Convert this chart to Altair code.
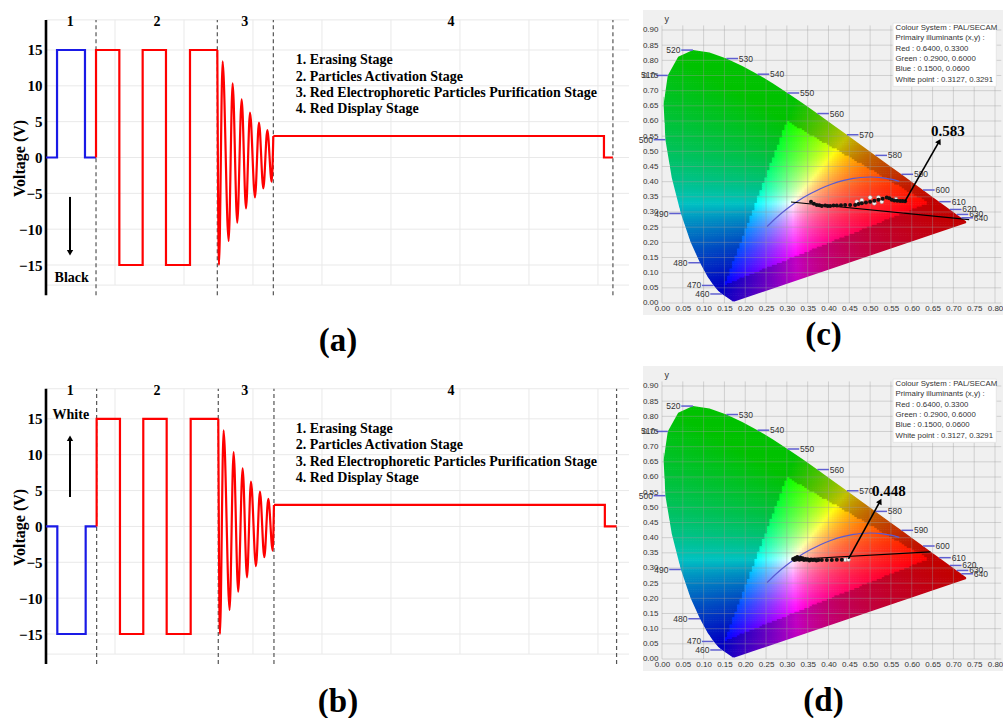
import altair as alt
import numpy as np
import pandas as pd

SERIF = "Liberation Serif"
SANS = "Liberation Sans"
BG = "#f0f0f0"

# ---------------- waveform (a) ----------------
A_BLUE_T = [0, 0.16, 0.16, 0.565, 0.565, 0.725]
A_BLUE_V = [0, 0, 15, 15, 0, 0]
A_SQ_T = [0.725, 0.725, 1.063, 1.063, 1.401, 1.401, 1.739, 1.739, 2.087, 2.087, 2.483]
A_OSC_T = [2.483, 2.507, 2.560, 2.647, 2.705, 2.772, 2.836, 2.899, 2.957, 3.029, 3.087, 3.150, 3.208, 3.271, 3.295]
A_ST4_T = [3.295, 8.087, 8.087, 8.217]
A_DASH_T = [0.725, 2.483, 3.295, 8.217]
# ---------------- waveform (b) ----------------
B_BLUE_T = [0, 0.164, 0.164, 0.575, 0.575, 0.734]
B_BLUE_V = [0, 0, -15, -15, 0, 0]
B_SQ_T = [0.734, 0.734, 1.072, 1.072, 1.410, 1.410, 1.749, 1.749, 2.097, 2.097, 2.497]
B_OSC_T = [2.497, 2.521, 2.574, 2.661, 2.719, 2.786, 2.850, 2.913, 2.971, 3.043, 3.101, 3.164, 3.222, 3.285, 3.304]
B_ST4_T = [3.304, 8.100, 8.100, 8.270]
B_DASH_T = [0.734, 2.497, 3.304, 8.270]

SQ_V = [0, 15, 15, -15, -15, 15, 15, -15, -15, 15, 15]
OSC_V = [15, -15, 13.4, -11.65, 10.35, -9.1, 8.1, -7.1, 6.25, -5.55, 4.86, -4.3, 3.84, -3.37, 3.0]
ST4_V = [3, 3, 0, 0]

STAGE_NUM = ["1", "2", "3", "4"]
STAGE_NUM_T = [0.35, 1.61, 2.88, 5.87]
STAGE_NUM_V = 18.9
STAGE_TEXT = ["1. Erasing Stage", "2. Particles Activation Stage",
              "3. Red Electrophoretic Particles Purification Stage", "4. Red Display Stage"]
STAGE_TEXT_T = 3.62
STAGE_TEXT_V = [13.6, 11.3, 9.0, 6.7]
Y_TICKS = [-15, -10, -5, 0, 5, 10, 15]
H_GRID_V = [-17.8, -15, -10, -5, 0, 5, 10, 15, 19.2]
V_GRID_T = [1, 2, 3, 4, 5, 6, 7, 8]
T_MAX = 8.45
AXIS_SPAN = [-19.2, 19.2]
GRID_SPAN = [-17.8, 19.2]

# ---------------- CIE 1931 spectral locus ----------------
LOCUS_NM = [380, 430, 440, 450, 460, 465, 470, 475, 480, 485, 490, 495, 500, 505, 510, 515, 520, 525,
            530, 535, 540, 545, 550, 555, 560, 565, 570, 575, 580, 585, 590, 595, 600, 605, 610, 620,
            630, 640, 650, 700]
LOCUS_X = [0.1741, 0.1689, 0.1644, 0.1566, 0.1440, 0.1355, 0.1241, 0.1096, 0.0913, 0.0687, 0.0454,
           0.0235, 0.0082, 0.0039, 0.0139, 0.0389, 0.0743, 0.1142, 0.1547, 0.1929, 0.2296, 0.2658,
           0.3016, 0.3373, 0.3731, 0.4087, 0.4441, 0.4788, 0.5125, 0.5448, 0.5752, 0.6029, 0.6270,
           0.6482, 0.6658, 0.6915, 0.7079, 0.7190, 0.7260, 0.7347]
LOCUS_Y = [0.0050, 0.0069, 0.0109, 0.0177, 0.0297, 0.0399, 0.0578, 0.0868, 0.1327, 0.2007, 0.2950,
           0.4127, 0.5384, 0.6548, 0.7502, 0.8120, 0.8338, 0.8262, 0.8059, 0.7816, 0.7543, 0.7243,
           0.6923, 0.6589, 0.6245, 0.5896, 0.5547, 0.5202, 0.4866, 0.4544, 0.4242, 0.3965, 0.3725,
           0.3514, 0.3340, 0.3083, 0.2920, 0.2809, 0.2740, 0.2653]
WL_LABELS = [460, 470, 480, 490, 500, 510, 520, 530, 540, 550, 560, 570, 580, 590, 600, 610, 620, 630, 640]

PLANCK_X = [0.2524, 0.2637, 0.2807, 0.2952, 0.3135, 0.3324, 0.3451, 0.3608, 0.3805, 0.4052, 0.4369,
            0.4599, 0.4770, 0.5018, 0.5267, 0.5496, 0.5700]
PLANCK_Y = [0.2522, 0.2671, 0.2884, 0.3048, 0.3237, 0.3410, 0.3516, 0.3635, 0.3768, 0.3907, 0.4041,
            0.4106, 0.4137, 0.4153, 0.4133, 0.4081, 0.4010]

CIE_X_TICKS = [0.0, 0.05, 0.1, 0.15, 0.2, 0.25, 0.3, 0.35, 0.4, 0.45, 0.5, 0.55, 0.6, 0.65, 0.7, 0.75, 0.8]
CIE_Y_TICKS = [0.0, 0.05, 0.1, 0.15, 0.2, 0.25, 0.3, 0.35, 0.4, 0.45, 0.5, 0.55, 0.6, 0.65, 0.7, 0.75,
               0.8, 0.85, 0.9]

LEGEND_LINES = ["Colour System : PAL/SECAM", "Primairy illuminants (x,y) :", "Red : 0.6400, 0.3300",
                "Green : 0.2900, 0.6000", "Blue : 0.1500, 0.0600", "White point  : 0.3127, 0.3291"]
LEGEND_Y = [0.906, 0.872, 0.838, 0.804, 0.770, 0.736]

# (c) measured chromaticity points
C_BLACK_X = [0.358, 0.365, 0.372, 0.378, 0.384, 0.392, 0.398, 0.404, 0.412, 0.420, 0.430, 0.440, 0.452,
             0.464, 0.472, 0.480, 0.490, 0.500, 0.510, 0.520, 0.530, 0.540, 0.546, 0.552, 0.558, 0.565,
             0.572, 0.578, 0.584]
C_BLACK_Y = [0.334, 0.327, 0.323, 0.322, 0.320, 0.321, 0.320, 0.320, 0.321, 0.321, 0.322, 0.323, 0.323,
             0.323, 0.326, 0.329, 0.331, 0.334, 0.337, 0.340, 0.344, 0.348, 0.345, 0.340, 0.338, 0.337,
             0.336, 0.336, 0.335]
C_WHITE_X = [0.468, 0.480, 0.500, 0.510, 0.520, 0.528, 0.562]
C_WHITE_Y = [0.334, 0.339, 0.348, 0.329, 0.348, 0.334, 0.342]
C_LINE = [0.310, 0.333, 0.738, 0.275]
C_ARROW = [0.584, 0.336, 0.666, 0.533]
C_VALUE = ["0.583", 0.687, 0.567]

# (d) measured chromaticity points
D_BLACK_X = [0.315, 0.318, 0.320, 0.323, 0.325, 0.328, 0.330, 0.333, 0.335, 0.338, 0.341, 0.344, 0.347,
             0.350, 0.354, 0.358, 0.362, 0.366, 0.371, 0.376, 0.384, 0.396, 0.408, 0.420, 0.432]
D_BLACK_Y = [0.330, 0.326, 0.333, 0.328, 0.336, 0.331, 0.327, 0.334, 0.329, 0.332, 0.326, 0.330, 0.327,
             0.329, 0.325, 0.328, 0.326, 0.327, 0.325, 0.326, 0.326, 0.326, 0.326, 0.327, 0.327]
D_WHITE_X = [0.440, 0.448]
D_WHITE_Y = [0.327, 0.328]
D_LINE = [0.312, 0.328, 0.645, 0.353]
D_ARROW = [0.448, 0.330, 0.524, 0.520]
D_VALUE = ["0.448", 0.545, 0.554]


# ---------------- helpers ----------------
def in_poly(px, py, vx, vy):
    inside = np.zeros(px.shape, dtype=bool)
    n = len(vx)
    j = n - 1
    for i in range(n):
        xi, yi, xj, yj = vx[i], vy[i], vx[j], vy[j]
        cond = ((yi > py) != (yj > py)) & (px < (xj - xi) * (py - yi) / (yj - yi + 1e-12) + xi)
        inside ^= cond
        j = i
    return inside


def chroma_hex(x, y):
    y = max(y, 0.004)
    X, Y, Z = x / y, 1.0, (1 - x - y) / y
    r = 3.2406 * X - 1.5372 * Y - 0.4986 * Z
    g = -0.9689 * X + 1.8758 * Y + 0.0415 * Z
    b = 0.0557 * X - 0.2040 * Y + 1.0570 * Z
    out = min(r, g, b) < 0
    r, g, b = max(r, 0.0), max(g, 0.0), max(b, 0.0)
    m = max(r, g, b, 1e-9)
    k = 0.76 if out else 1.0
    vals = [int(round(255 * k * (c / m) ** 0.9)) for c in (r, g, b)]
    return "#%02x%02x%02x" % tuple(vals)


STEP = 0.006
vx_poly = np.array(LOCUS_X)
vy_poly = np.array(LOCUS_Y)
gx, gy = np.meshgrid(np.arange(0.0, 0.74, STEP), np.arange(0.0, 0.84, STEP))
gx, gy = gx.ravel(), gy.ravel()
keep = np.zeros(gx.shape, dtype=bool)
for ox, oy in [(0, 0), (STEP, 0), (0, STEP), (STEP, STEP), (STEP / 2, STEP / 2)]:
    keep |= in_poly(gx + ox, gy + oy, vx_poly, vy_poly)
gx, gy = gx[keep], gy[keep]
CELLS = pd.DataFrame({
    "x0": np.round(gx, 4), "x1": np.round(gx + STEP * 1.3, 4),
    "y0": np.round(gy, 4), "y1": np.round(gy + STEP * 1.3, 4),
    "c": [chroma_hex(a + STEP / 2, b + STEP / 2) for a, b in zip(gx, gy)],
})

XD = [-0.0456, 0.8192]
YD = [-0.0396, 0.9659]

i505 = LOCUS_NM.index(505)
MASK_TOP = pd.DataFrame({"x": LOCUS_X[i505:], "y": LOCUS_Y[i505:], "top": YD[1]})
MASK_LEFT = pd.DataFrame({"y": LOCUS_Y[:i505 + 1] + [YD[1]], "x": LOCUS_X[:i505 + 1] + [LOCUS_X[i505]],
                          "left": XD[0]})
MASK_BOTTOM = pd.DataFrame({"x": [XD[0], LOCUS_X[0], LOCUS_X[-1]], "y": [LOCUS_Y[0], LOCUS_Y[0], LOCUS_Y[-1]],
                            "bottom": YD[0]})
MASK_RIGHT = pd.DataFrame({"x0": [LOCUS_X[-1] - 0.004], "x1": [XD[1]], "y0": [YD[0]], "y1": [YD[1]]})


def wave_panel(tag, blue_t, blue_v, sq_t, osc_t, st4_t, dash_t, note, note_t, note_v,
               arr_v0, arr_v1, head, title_pad, y_top, height, title_y):
    xs = alt.Scale(domain=[0, T_MAX], nice=False, zero=False)
    ys = alt.Scale(domain=[-19.88, y_top], nice=False, zero=False)
    xax = alt.Axis(title=tag, labels=False, ticks=False, domain=False, grid=False, titleFont=SERIF,
                   titleFontSize=33, titleFontWeight="bold", titleColor="black", titlePadding=title_pad)
    yax = alt.Axis(values=Y_TICKS, ticks=False, domain=False, grid=False, labelFont=SERIF, labelFontSize=15,
                   labelFontWeight="bold", labelColor="black", labelPadding=4, title="Voltage (V)",
                   titleFont=SERIF, titleFontSize=16, titleFontWeight="bold", titleColor="black",
                   titleX=-27, titleY=title_y, titleBaseline="middle", titleAngle=270)

    def X(f):
        return alt.X(f, type="quantitative", scale=xs, axis=xax)

    def Y(f):
        return alt.Y(f, type="quantitative", scale=ys, axis=yax)

    hgrid = alt.Chart(pd.DataFrame({"v": H_GRID_V, "t0": 0.0, "t1": T_MAX})).mark_rule(
        color="#e9e9e9", strokeWidth=1).encode(y=Y("v"), x=X("t0"), x2="t1")
    vgrid = alt.Chart(pd.DataFrame({"t": V_GRID_T, "v0": GRID_SPAN[0], "v1": GRID_SPAN[1]})).mark_rule(
        color="#e9e9e9", strokeWidth=1).encode(x=X("t"), y=Y("v0"), y2="v1")
    dash = alt.Chart(pd.DataFrame({"t": dash_t, "v0": AXIS_SPAN[0], "v1": AXIS_SPAN[1]})).mark_rule(
        color="#555555", strokeWidth=1.2, strokeDash=[4, 3]).encode(x=X("t"), y=Y("v0"), y2="v1")
    yline = alt.Chart(pd.DataFrame({"t": [0.0], "v0": [AXIS_SPAN[0]], "v1": [AXIS_SPAN[1]]})).mark_rule(
        color="black", strokeWidth=2.6).encode(x=X("t"), y=Y("v0"), y2="v1")

    def line(ts, vs, color, interp="linear"):
        df = pd.DataFrame({"t": ts, "v": vs, "i": list(range(len(ts)))})
        return alt.Chart(df).mark_line(color=color, strokeWidth=2.2, interpolate=interp).encode(
            x=X("t"), y=Y("v"), order="i:Q")

    blue = line(blue_t, blue_v, "#1a1ae6")
    sq = line(sq_t, SQ_V, "#ff0000")
    osc = line(osc_t, OSC_V, "#ff0000", "monotone")
    st4 = line(st4_t, ST4_V, "#ff0000")

    nums = alt.Chart(pd.DataFrame({"t": STAGE_NUM_T, "v": STAGE_NUM_V, "s": STAGE_NUM})).mark_text(
        font=SERIF, fontSize=14, fontWeight="bold", color="black").encode(x=X("t"), y=Y("v"), text="s:N")
    notes = alt.Chart(pd.DataFrame({"t": STAGE_TEXT_T, "v": STAGE_TEXT_V, "s": STAGE_TEXT})).mark_text(
        font=SERIF, fontSize=14, fontWeight="bold", color="black", align="left", baseline="middle").encode(
        x=X("t"), y=Y("v"), text="s:N")
    note_lbl = alt.Chart(pd.DataFrame({"t": [note_t], "v": [note_v], "s": [note]})).mark_text(
        font=SERIF, fontSize=14, fontWeight="bold", color="black").encode(x=X("t"), y=Y("v"), text="s:N")
    arr = alt.Chart(pd.DataFrame({"t": [0.348], "v0": [arr_v0], "v1": [arr_v1]})).mark_rule(
        color="black", strokeWidth=2).encode(x=X("t"), y=Y("v0"), y2="v1")
    head_df = pd.DataFrame({"t": [0.348], "v": [arr_v1]})
    arr_head = alt.Chart(head_df).mark_point(shape=head, filled=True, size=40, color="black",
                                             opacity=1).encode(x=X("t"), y=Y("v"))
    return alt.layer(hgrid, vgrid, dash, yline, blue, sq, osc, st4, nums, notes, note_lbl, arr,
                     arr_head).properties(width=583, height=height)


def cie_panel(tag, bx, by, wx, wy, line_pts, arrow_pts, head_angle, value, title_pad):
    xs = alt.Scale(domain=XD, nice=False, zero=False)
    ys = alt.Scale(domain=YD, nice=False, zero=False)
    xax = alt.Axis(values=CIE_X_TICKS, format=".2f", labelFont=SANS, labelFontSize=8, labelColor="#333333",
                   ticks=False, tickSize=0, domain=False, grid=False, offset=-12, labelPadding=1,
                   labelOverlap=False, title=tag, titleFont=SERIF, titleFontSize=33, titleFontWeight="bold",
                   titleColor="black", titlePadding=title_pad, zindex=1)
    yax = alt.Axis(values=CIE_Y_TICKS, format=".2f", labelFont=SANS, labelFontSize=8, labelColor="#333333",
                   ticks=False, tickSize=0, domain=False, grid=False, offset=-19, labelPadding=4,
                   labelOverlap=False, title=None, zindex=1)

    def X(f):
        return alt.X(f, type="quantitative", scale=xs, axis=xax)

    def Y(f):
        return alt.Y(f, type="quantitative", scale=ys, axis=yax)

    cells = alt.Chart(CELLS).mark_rect().encode(
        x=X("x0"), x2="x1", y=Y("y0"), y2="y1", color=alt.Color("c:N", scale=None))
    m1 = alt.Chart(MASK_TOP).mark_area(color=BG).encode(x=X("x"), y=Y("y"), y2="top")
    m2 = alt.Chart(MASK_LEFT).mark_area(color=BG, orient="horizontal").encode(y=Y("y"), x=X("x"), x2="left")
    m3 = alt.Chart(MASK_BOTTOM).mark_area(color=BG).encode(x=X("x"), y=Y("y"), y2="bottom")
    m4 = alt.Chart(MASK_RIGHT).mark_rect(color=BG).encode(x=X("x0"), x2="x1", y=Y("y0"), y2="y1")

    hg = alt.Chart(pd.DataFrame({"y": CIE_Y_TICKS, "x0": 0.0, "x1": 0.815})).mark_rule(
        color="#9a9a9a", opacity=0.38, strokeWidth=1).encode(y=Y("y"), x=X("x0"), x2="x1")
    vg = alt.Chart(pd.DataFrame({"x": CIE_X_TICKS, "y0": 0.0, "y1": 0.915})).mark_rule(
        color="#9a9a9a", opacity=0.38, strokeWidth=1).encode(x=X("x"), y=Y("y0"), y2="y1")

    planck = alt.Chart(pd.DataFrame({"x": PLANCK_X, "y": PLANCK_Y, "i": list(range(len(PLANCK_X)))})).mark_line(
        color="#5a5ad2", strokeWidth=1.2, interpolate="monotone").encode(x=X("x"), y=Y("y"), order="i:Q")
    dline = alt.Chart(pd.DataFrame({"x0": [line_pts[0]], "y0": [line_pts[1]], "x1": [line_pts[2]],
                                    "y1": [line_pts[3]]})).mark_rule(color="black", strokeWidth=1.2).encode(
        x=X("x0"), y=Y("y0"), x2="x1", y2="y1")

    wl_rows = []
    for nm in WL_LABELS:
        k = LOCUS_NM.index(nm)
        lx, ly = LOCUS_X[k], LOCUS_Y[k]
        left = nm <= 520
        wl_rows.append({"nm": str(nm), "y": ly, "xa": lx, "xb": lx - 0.028 if left else lx + 0.028,
                        "xt": lx - 0.030 if left else lx + 0.030, "left": left})
    wl = pd.DataFrame(wl_rows)
    wl_ticks = alt.Chart(wl).mark_rule(color="#5f5fd0", strokeWidth=1.5).encode(
        x=X("xa"), x2="xb", y=Y("y"))
    wl_left = alt.Chart(wl[wl["left"]]).mark_text(font=SANS, fontSize=8.5, color="#333333", align="right",
                                                   baseline="middle").encode(x=X("xt"), y=Y("y"), text="nm:N")
    wl_right = alt.Chart(wl[~wl["left"]]).mark_text(font=SANS, fontSize=8.5, color="#333333", align="left",
                                                     baseline="middle").encode(x=X("xt"), y=Y("y"), text="nm:N")

    white = alt.Chart(pd.DataFrame({"x": wx, "y": wy})).mark_circle(
        size=16, color="#f4f4f4", stroke="#888888", strokeWidth=0.5, opacity=1).encode(x=X("x"), y=Y("y"))
    black = alt.Chart(pd.DataFrame({"x": bx, "y": by})).mark_circle(
        size=16, color="#111111", opacity=1).encode(x=X("x"), y=Y("y"))

    arr = alt.Chart(pd.DataFrame({"x0": [arrow_pts[0]], "y0": [arrow_pts[1]], "x1": [arrow_pts[2]],
                                  "y1": [arrow_pts[3]]})).mark_rule(color="black", strokeWidth=1.6).encode(
        x=X("x0"), y=Y("y0"), x2="x1", y2="y1")
    head = alt.Chart(pd.DataFrame({"x": [arrow_pts[2]], "y": [arrow_pts[3]]})).mark_point(
        shape="triangle-up", filled=True, size=40, angle=head_angle, color="black", opacity=1).encode(
        x=X("x"), y=Y("y"))
    val = alt.Chart(pd.DataFrame({"x": [value[1]], "y": [value[2]], "s": [value[0]]})).mark_text(
        font=SERIF, fontSize=15, fontWeight="bold", color="black").encode(x=X("x"), y=Y("y"), text="s:N")

    box = alt.Chart(pd.DataFrame({"x0": [0.555], "x1": [0.803], "y0": [0.714], "y1": [0.923]})).mark_rect(
        color="white", stroke="#e2e2e2", strokeWidth=0.8).encode(x=X("x0"), x2="x1", y=Y("y0"), y2="y1")
    leg = alt.Chart(pd.DataFrame({"x": 0.561, "y": LEGEND_Y, "s": LEGEND_LINES})).mark_text(
        font=SANS, fontSize=7.8, color="#333333", align="left", baseline="middle").encode(
        x=X("x"), y=Y("y"), text="s:N")
    ylab = alt.Chart(pd.DataFrame({"x": [0.006], "y": [0.935], "s": ["y"]})).mark_text(
        font=SANS, fontSize=9, color="#333333", align="left").encode(x=X("x"), y=Y("y"), text="s:N")

    return alt.layer(cells, m1, m2, m3, m4, hg, vg, planck, dline, wl_ticks, wl_left, wl_right, white,
                     black, arr, head, val, box, leg, ylab).properties(
        width=360, height=305, view=alt.ViewBackground(fill=BG, stroke=None))


panel_a = wave_panel("(a)", A_BLUE_T, A_BLUE_V, A_SQ_T, A_OSC_T, A_ST4_T, A_DASH_T,
                     "Black", 0.372, -16.8, -5.5, -13.3, "triangle-down", 24, 20.58, 290, 148)
panel_b = wave_panel("(b)", B_BLUE_T, B_BLUE_V, B_SQ_T, B_OSC_T, B_ST4_T, B_DASH_T,
                     "White", 0.36, 15.6, 4.1, 12.3, "triangle-up", 16, 22.37, 303, 161)
panel_c = cie_panel("(c)", C_BLACK_X, C_BLACK_Y, C_WHITE_X, C_WHITE_Y, C_LINE, C_ARROW, 29, C_VALUE, 6)
panel_d = cie_panel("(d)", D_BLACK_X, D_BLACK_Y, D_WHITE_X, D_WHITE_Y, D_LINE, D_ARROW, 28, D_VALUE, 16)

chart = alt.concat(panel_a, panel_c, panel_b, panel_d, columns=2,
                   spacing={"row": 51, "column": 14}, bounds="flush").properties(
    padding={"left": 11, "top": 10, "right": 0, "bottom": 0}, background="white"
).configure_view(stroke=None)

chart.save("out.html", embed_options={"renderer": "svg", "actions": False})
